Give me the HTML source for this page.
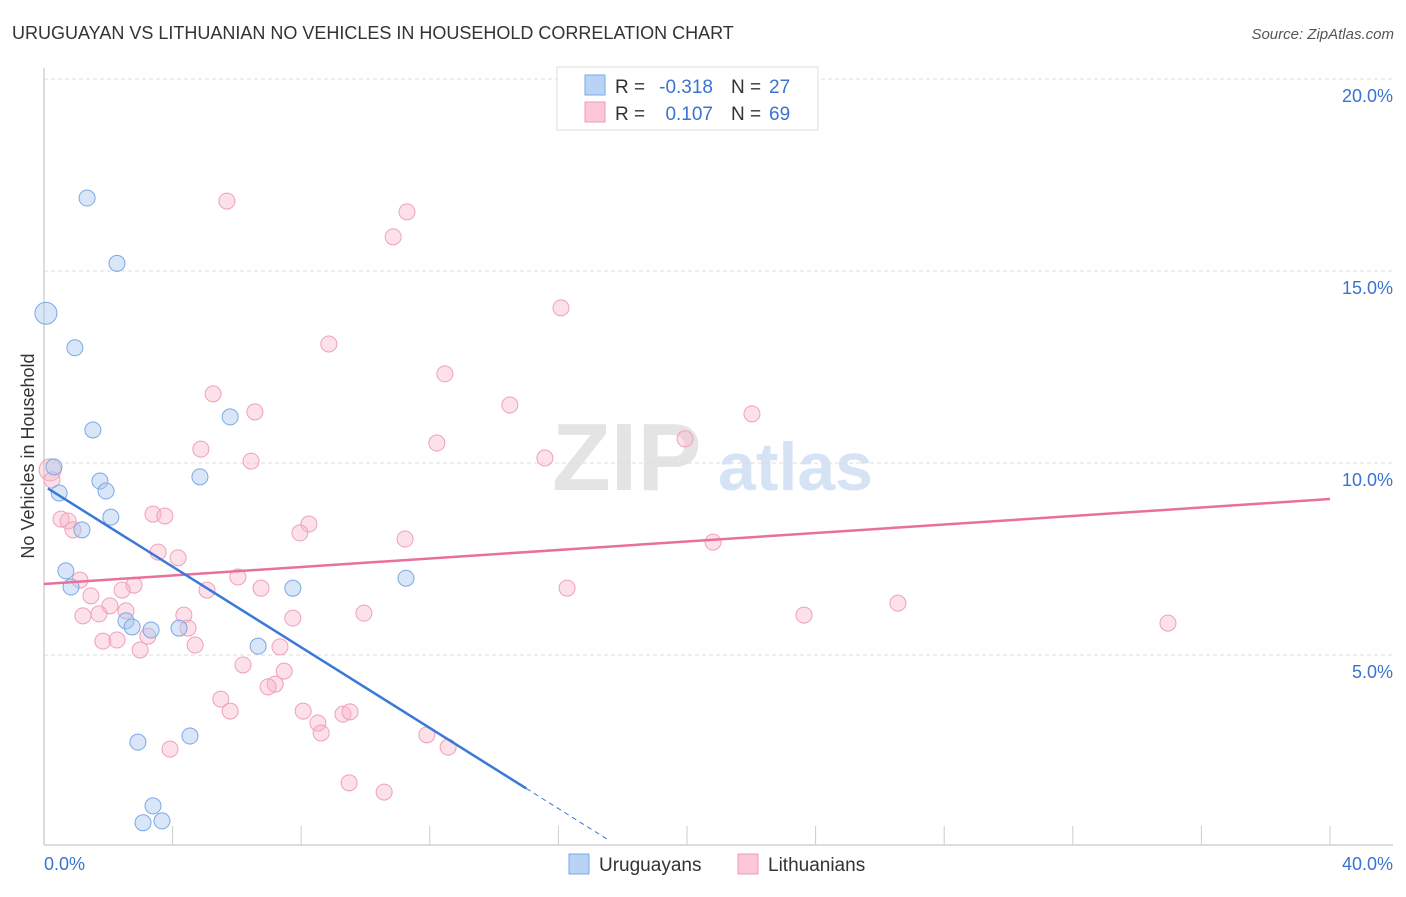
<!DOCTYPE html>
<html><head><meta charset="utf-8"><style>
body{margin:0;background:#fff;font-family:"Liberation Sans",sans-serif;}
svg text{font-family:"Liberation Sans",sans-serif;}
</style></head><body>
<svg id="c" width="1406" height="892" xmlns="http://www.w3.org/2000/svg">
<text x="12" y="39" font-size="18" fill="#333">URUGUAYAN VS LITHUANIAN NO VEHICLES IN HOUSEHOLD CORRELATION CHART</text>
<text x="1394" y="39" font-size="15" fill="#555" text-anchor="end" font-style="italic">Source: ZipAtlas.com</text>
<text x="552" y="490" font-size="96" fill="#e4e4e4" font-family="Liberation Serif" font-weight="bold">ZIP</text>
<text x="718" y="490" font-size="68" fill="#d6e3f5" font-weight="bold">atlas</text>
<text transform="translate(34,456) rotate(-90)" font-size="18" fill="#333" text-anchor="middle">No Vehicles in Household</text>
<g id="grid"></g><g id="marks"></g>
<g>
<rect x="557" y="67" width="261" height="63" fill="#fff" stroke="#ddd"/>
<rect x="585" y="75" width="20" height="20" fill="#b9d3f5" stroke="#7aa8e8"/>
<rect x="585" y="102" width="20" height="20" fill="#fcc7d6" stroke="#f09ab4"/>
<text x="615" y="93" font-size="19" fill="#333">R =</text>
<text x="713" y="93" font-size="19" fill="#3b73d1" text-anchor="end">-0.318</text>
<text x="731" y="93" font-size="19" fill="#333">N =</text>
<text x="769" y="93" font-size="19" fill="#3b73d1">27</text>
<text x="615" y="120" font-size="19" fill="#333">R =</text>
<text x="713" y="120" font-size="19" fill="#3b73d1" text-anchor="end">0.107</text>
<text x="731" y="120" font-size="19" fill="#333">N =</text>
<text x="769" y="120" font-size="19" fill="#3b73d1">69</text>
</g>
<g>
<rect x="569" y="854" width="20" height="20" fill="#b9d3f5" stroke="#7aa8e8"/>
<text x="599" y="871" font-size="19" fill="#333">Uruguayans</text>
<rect x="738" y="854" width="20" height="20" fill="#fcc7d6" stroke="#f09ab4"/>
<text x="768" y="871" font-size="19" fill="#333">Lithuanians</text>
</g>
</svg>
<script>
const xTicks=[0,40];
const yTicks=[5,10,15,20];
const uruX=[1.34,2.27,0.06,0.96,1.52,5.79,0.31,1.74,1.93,0.47,4.85,2.08,1.18,0.68,0.84,7.74,11.26,2.55,2.74,3.33,4.2,6.66,2.92,4.54,3.39,3.08,3.67];
const uruY=[16.9,15.2,13.9,13.0,10.86,11.2,9.9,9.53,9.27,9.22,9.64,8.59,8.26,7.19,6.77,6.74,7.0,5.89,5.73,5.65,5.7,5.23,2.73,2.89,1.07,0.63,0.68];
const litX=[5.69,11.29,10.86,16.08,8.86,12.47,5.26,14.49,6.56,22.02,19.94,12.22,4.88,15.58,6.44,0.19,0.25,0.53,0.75,0.9,3.39,3.76,8.24,7.96,11.23,20.81,3.55,4.17,6.03,1.12,2.8,2.43,5.07,6.75,16.27,1.46,2.05,2.55,26.56,1.21,1.71,4.35,7.74,9.95,23.64,34.96,4.48,3.23,1.83,2.27,4.7,2.99,7.34,6.19,7.47,7.19,6.97,5.5,5.79,8.06,8.52,8.62,9.3,9.52,11.91,12.57,3.92,9.49,10.58];
const litY=[16.82,16.54,15.89,14.04,13.1,12.32,11.8,11.51,11.33,11.28,10.63,10.52,10.36,10.13,10.05,9.82,9.56,8.54,8.49,8.26,8.67,8.62,8.41,8.18,8.02,7.94,7.68,7.53,7.03,6.95,6.82,6.69,6.69,6.74,6.74,6.54,6.28,6.15,6.35,6.02,6.07,6.04,5.96,6.09,6.04,5.83,5.7,5.49,5.36,5.39,5.26,5.13,5.21,4.74,4.58,4.24,4.17,3.85,3.54,3.54,3.23,2.97,3.46,3.52,2.92,2.6,2.55,1.67,1.43];
const uruTrend=[9.4,-0.525];
const litTrend=[6.85,0.0553];
const X=v=>44+v*32.15, Y=v=>847-v*38.4;
const NS="http://www.w3.org/2000/svg";
function mk(t,a,p){const e=document.createElementNS(NS,t);for(const k in a)e.setAttribute(k,a[k]);p.appendChild(e);return e;}
const g=document.getElementById('grid'), m=document.getElementById('marks');
yTicks.forEach(v=>{
 const l=mk('line',{x1:44,x2:1393,y1:Y(v),y2:Y(v),stroke:'#ddd','stroke-dasharray':'4,3'},g);
 
 
 const t=mk('text',{x:1393,y:Y(v)+23,'font-size':18,fill:'#3b73d1','text-anchor':'end'},g);t.textContent=v.toFixed(1)+'%';
 
 
});
const ax=mk('line',{x1:44,x2:44,y1:68,y2:845,stroke:'#bbb'},g);


const bx=mk('line',{x1:44,x2:1393,y1:845,y2:845,stroke:'#bbb'},g);


for(let i=1;i<=10;i++){const tk=mk('line',{x1:X(i*4),x2:X(i*4),y1:826,y2:845,stroke:'#ccc'},g);
 
 }
xTicks.forEach((v,i)=>{const t=mk('text',{x:i?1393:44,y:870,'font-size':18,fill:'#3b73d1','text-anchor':i?'end':'start'},g);t.textContent=v.toFixed(1)+'%';
 
 });
litX.forEach((v,i)=>{const c=mk('circle',{cx:X(v),cy:Y(litY[i]),r:(i==15?11:8),fill:'rgba(248,180,200,0.4)',stroke:'#f0a0ba','stroke-width':1},m);
 
 });
uruX.forEach((v,i)=>{const c=mk('circle',{cx:X(v),cy:Y(uruY[i]),r:(i==2?11:8),fill:'rgba(170,200,240,0.45)',stroke:'#7aa8e8','stroke-width':1},m);
 
 });
const lp=mk('line',{x1:X(0),y1:Y(litTrend[0]),x2:X(40),y2:Y(litTrend[0]+litTrend[1]*40),stroke:'#e8709a','stroke-width':2.5},m);


const ub=mk('line',{x1:X(0.12),y1:Y(uruTrend[0]+uruTrend[1]*0.12),x2:X(15),y2:Y(uruTrend[0]+uruTrend[1]*15),stroke:'#3b78d8','stroke-width':2.5},m);


const ud=mk('line',{x1:X(15),y1:Y(uruTrend[0]+uruTrend[1]*15),x2:X(17.6),y2:Y(uruTrend[0]+uruTrend[1]*17.6),stroke:'#3b78d8','stroke-width':1,'stroke-dasharray':'5,4'},m);


</script>
</body></html>
